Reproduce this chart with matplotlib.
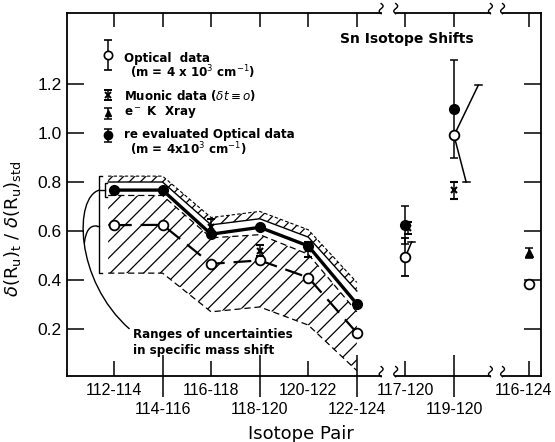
import numpy as np
import matplotlib.pyplot as plt
from matplotlib.path import Path
from matplotlib.patches import PathPatch
import matplotlib.transforms as mtransforms

plt.rcParams['font.family'] = 'DejaVu Sans'
plt.rcParams['mathtext.fontset'] = 'dejavusans'
plt.rcParams['hatch.linewidth'] = 0.9

# isotope pairs and their positions along the (broken) x axis
pairs = ['112-114', '114-116', '116-118', '118-120', '120-122', '122-124',
         '117-120', '119-120', '116-124']
xpos = [1, 2, 3, 4, 5, 6, 7, 8, 9.55]

# main chain 112-114 ... 122-124
chain_x = xpos[:6]
optical = [0.624, 0.625, 0.466, 0.480, 0.410, 0.184]
reeval = [0.767, 0.767, 0.587, 0.615, 0.539, 0.302]
muon_x = [3, 4, 5, 7.05, 8]
muon = [0.615, 0.520, 0.525, 0.613, 0.767]
muon_err = [0.035, 0.022, 0.030, 0.025, 0.035]

# uncertainty bands (specific mass shift)
band_start = 0.88
strip_top = [0.824, 0.824, 0.655, 0.680, 0.605, 0.390]
strip_bot = [0.800, 0.800, 0.625, 0.650, 0.575, 0.355]
band_top = [0.745, 0.745, 0.572, 0.585, 0.505, 0.270]
band_bot = [0.428, 0.428, 0.270, 0.290, 0.216, 0.030]

# separate pairs
opt_x = [7, 8, 9.55]
opt_sep = [0.495, 0.990, 0.384]
opt_sep_err = [0.078, 0.0, 0.0]
reev_x = [7, 8]
reev_sep = [0.624, 1.100]
reev_sep_err = [0.078, 0.200]
xray_x = [9.55]
xray = [0.510]
xray_err = [0.020]
# tilted error arms on open circles (start x, end x, end y)
arm_x0 = [7, 8, 8]
arm_y0 = [0.495, 0.990, 0.990]
arm_x1 = [7.13, 8.5, 8.25]
arm_y1 = [0.556, 1.195, 0.800]

fig = plt.figure(figsize=(5.55, 4.42), dpi=100)
ax = fig.add_axes([0.1207, 0.1493, 0.854, 0.8213])
ax.set_xlim(0.033, 9.79)
ax.set_ylim(0.008, 1.49)

bx = [band_start] + chain_x
ax.fill_between(bx, [band_bot[0]] + band_bot, [band_top[0]] + band_top,
                facecolor='none', edgecolor='k', hatch='//', linewidth=0)
ax.plot(bx, [band_bot[0]] + band_bot, color='k', lw=0.9, dashes=(5, 3))
ax.plot(bx, [band_top[0]] + band_top, color='k', lw=0.9, dashes=(5, 3))
ax.fill_between(bx, [strip_bot[0]] + strip_bot, [strip_top[0]] + strip_top,
                facecolor='none', edgecolor='k', hatch='///', linewidth=0)
ax.plot(bx, [strip_bot[0]] + strip_bot, color='k', lw=1.0)
ax.plot(bx, [strip_top[0]] + strip_top, color='k', lw=0.8, dashes=(3, 2))

ax.plot(chain_x, optical, color='k', lw=1.6, dashes=(8, 4), zorder=3)
ax.plot(chain_x, optical, 'o', ms=7, mfc='white', mec='k', mew=1.3, zorder=4)
ax.plot(chain_x, reeval, '-o', color='k', lw=2.4, ms=7, zorder=4)

ekw = dict(color='k', capsize=3, elinewidth=1.1, capthick=1.1, ls='none')
ax.errorbar(muon_x, muon, yerr=muon_err, marker='x', ms=5, mew=1.5, zorder=5, **ekw)
ax.errorbar(opt_x, opt_sep, yerr=opt_sep_err, marker='o', ms=7, mfc='white',
            mec='k', mew=1.3, zorder=5, **ekw)
ax.errorbar(reev_x, reev_sep, yerr=reev_sep_err, marker='o', ms=7, zorder=5, **ekw)
ax.errorbar(xray_x, xray, yerr=xray_err, marker='^', ms=6, zorder=5, **ekw)
for x0, y0, x1, y1 in zip(arm_x0, arm_y0, arm_x1, arm_y1):
    ax.plot([x0, x1], [y0, y1], color='k', lw=1.1, zorder=4)
    ax.plot([x1 - 0.07, x1 + 0.07], [y1, y1], color='k', lw=1.1)

# legend drawn by hand
leg_x = 0.88
ax.errorbar([leg_x], [1.318], yerr=[0.06], marker='o', ms=6, mfc='white', mec='k', mew=1.2, **ekw)
ax.errorbar([leg_x], [1.155], yerr=[0.022], marker='x', ms=4, mew=1.4, **ekw)
ax.errorbar([leg_x], [1.080], yerr=[0.022], marker='^', ms=5, **ekw)
ax.errorbar([leg_x], [0.990], yerr=[0.025], marker='o', ms=6, **ekw)
tk = dict(fontsize=8.6, fontweight='bold', va='center', ha='left')
ax.text(1.21, 1.305, 'Optical  data', **tk)
ax.text(1.33, 1.248, r'(m = 4 x 10$^3$ cm$^{-1}$)', **tk)
ax.text(1.21, 1.155, r'Muonic data ($\delta t \equiv o$)', **tk)
ax.text(1.21, 1.085, r'e$^-$ K  Xray', **tk)
ax.text(1.21, 0.995, 're evaluated Optical data', **tk)
ax.text(1.33, 0.935, r'(m = 4x10$^3$ cm$^{-1}$)', **tk)
ax.text(5.65, 1.385, 'Sn Isotope Shifts', fontsize=10, fontweight='bold', va='center')
ax.text(1.39, 0.176, 'Ranges of uncertainties', **tk)
ax.text(1.39, 0.114, 'in specific mass shift', **tk)

# brackets and leader curves
ax.plot([0.76, 0.70, 0.70, 0.76], [0.824, 0.824, 0.428, 0.428], color='k', lw=1.0)
ax.plot([0.70, 0.66], [0.62, 0.62], color='k', lw=1.0)
ax.plot([0.86, 0.82, 0.82, 0.86], [0.795, 0.795, 0.738, 0.738], color='k', lw=1.0)
ax.plot([0.82, 0.70], [0.767, 0.767], color='k', lw=1.0)
c = [Path.MOVETO, Path.CURVE4, Path.CURVE4, Path.CURVE4]
ax.add_patch(PathPatch(Path([(0.70, 0.767), (0.18, 0.74), (0.18, 0.40), (1.32, 0.20)], c),
                       fc='none', ec='k', lw=1.0))
ax.add_patch(PathPatch(Path([(0.66, 0.62), (0.50, 0.625), (0.42, 0.60), (0.39, 0.55)], c),
                       fc='none', ec='k', lw=1.0))

# axes styling
ax.set_yticks([0.2, 0.4, 0.6, 0.8, 1.0, 1.2])
ax.set_yticklabels(['0.2', '0.4', '0.6', '0.8', '1.0', '1.2'], family='Liberation Sans')
ax.tick_params(axis='y', direction='in', length=12, width=1.1, labelsize=12.5,
               right=True, pad=4)
trans = mtransforms.blended_transform_factory(ax.transData, ax.transAxes)
major = [0, 2, 4, 6, 8]
minor = [1, 3, 5, 7]
ax.set_xticks([xpos[i] for i in major])
ax.set_xticks([xpos[i] for i in minor], minor=True)
ax.set_xticklabels([])
ax.set_xticklabels([], minor=True)
ax.tick_params(axis='x', which='major', direction='in', length=11, width=1.1)
ax.tick_params(axis='x', which='minor', direction='inout', length=30, width=1.1)
for i, lab in enumerate(pairs):
    dy = -19 if i in minor else -5
    dx = -4 if i == len(pairs) - 1 else 0
    ax.annotate(lab, xy=(xpos[i], 0), xycoords=trans, xytext=(dx, dy),
                textcoords='offset points', ha='center', va='top',
                fontsize=11.5, family='Liberation Sans')
top = ax.secondary_xaxis('top')
top.set_xticks(xpos)
top.tick_params(direction='in', length=10, width=1.1, labeltop=False)
top.spines['top'].set_visible(False)
ax.set_xlabel('Isotope Pair', fontsize=13)
ax.xaxis.set_label_coords(0.494, -0.135)
ax.set_ylabel(r'$\delta(\mathrm{R_u})_\mathrm{t}\ /\ \delta(\mathrm{R_u})_\mathrm{std}$', fontsize=13)
ax.yaxis.set_label_coords(-0.092, 0.405)
for s in ['left', 'right']:
    ax.spines[s].set_linewidth(1.3)
ax.spines['bottom'].set_visible(False)
ax.spines['top'].set_visible(False)

# broken x axis (bottom and top)
breaks = [(6.5, 6.8), (8.75, 9.0)]
edges = [0.033] + [b for pr in breaks for b in pr] + [9.79]
t = np.linspace(-1, 1, 20)
for yy in [0.0, 1.0]:
    for a, b in zip(edges[::2], edges[1::2]):
        ax.plot([a, b], [yy, yy], color='k', lw=1.3, transform=trans, clip_on=False)
    for pr in breaks:
        for xb in pr:
            ax.plot(xb + 0.04 * np.sin(np.pi * t), yy + 0.012 + 0.014 * t, color='k', lw=1.0,
                    transform=trans, clip_on=False)

fig.savefig('out.png', dpi=100)
